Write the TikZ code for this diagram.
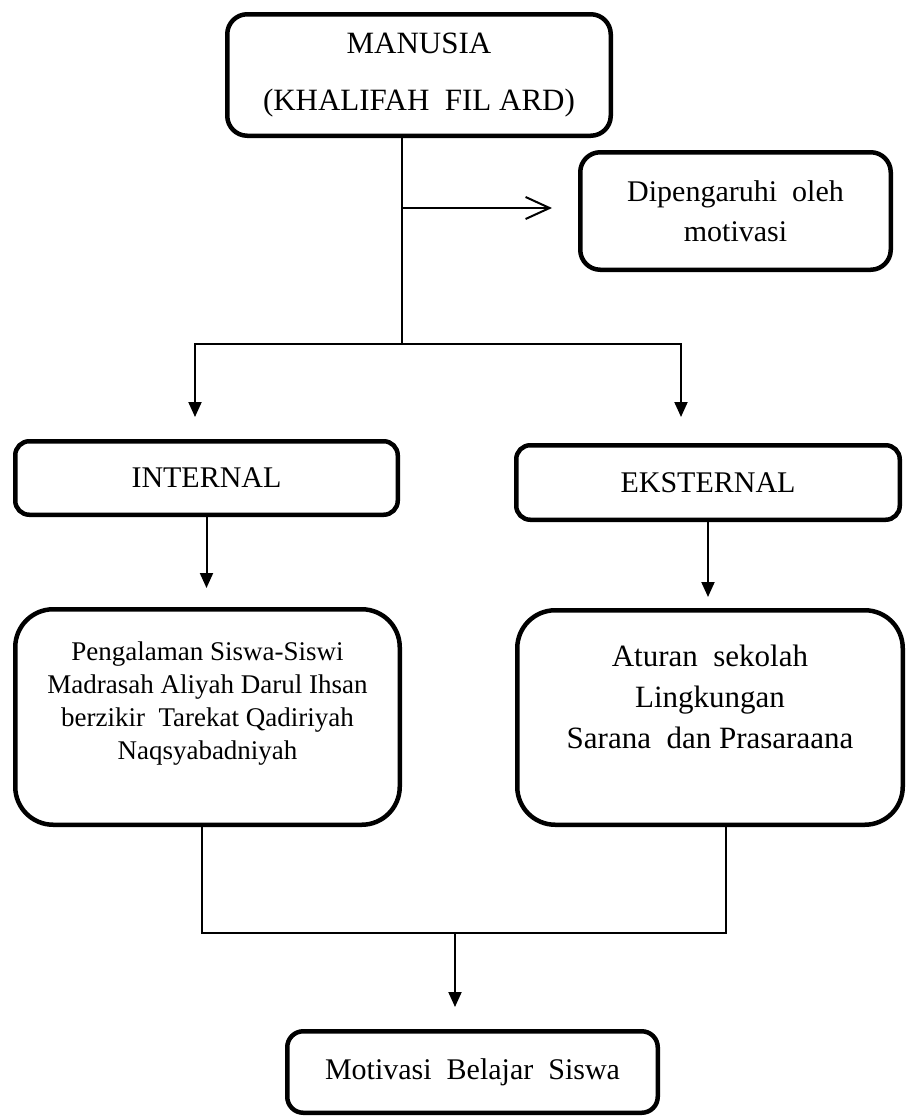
\documentclass[tikz,border=0pt]{standalone}
\usepackage{fontspec}
\setmainfont{Liberation Serif}
\usetikzlibrary{arrows.meta, positioning, calc}

\begin{document}
\begin{tikzpicture}[
    x=1pt, y=-1pt,
    box/.style={draw, rectangle, line width=4.5pt, rounded corners=20pt, align=center, inner sep=0pt, font=\fontsize{30}{41}\selectfont},
    line/.style={line width=2pt},
    arrow/.style={-{Triangle[length=15pt, width=13pt]}, line width=2pt},
    openarrow/.style={-{Straight Barb[length=24pt, width=22pt, line width=2pt]}, line width=2pt}
]

\useasboundingbox (0,0) rectangle (907,1117);

% Top boxes
\node[box, minimum width=383.5pt, minimum height=121.5pt, font=\fontsize{31}{57}\selectfont] (manusia) at (419,75) {MANUSIA\\(KHALIFAH\ \ FIL ARD)};
\node[box, minimum width=310.5pt, minimum height=117.5pt, font=\fontsize{30}{40}\selectfont] (motiv) at (735.5,211) {Dipengaruhi\ \ oleh\\motivasi};

% Faktor internal / eksternal
\node[box, minimum width=382.5pt, minimum height=73.5pt, rounded corners=14pt] (internal) at (206.5,478) {INTERNAL};
\node[box, minimum width=383.5pt, minimum height=74.5pt, rounded corners=14pt] (eksternal) at (708,482.5) {EKSTERNAL};

\node[box, minimum width=384.5pt, minimum height=215.5pt, rounded corners=38pt, font=\fontsize{27}{33}\selectfont] (pengalaman) at (207.5,717) {Pengalaman Siswa-Siswi\\Madrasah Aliyah Darul Ihsan\\berzikir\ \ Tarekat Qadiriyah\\Naqsyabadniyah\\ ~};
\node[box, minimum width=385.5pt, minimum height=214.5pt, rounded corners=38pt, font=\fontsize{31}{41}\selectfont] (aturan) at (710,717.5) {Aturan\ \ sekolah\\Lingkungan\\Sarana\ \ dan Prasaraana\\ ~};

% Hasil
\node[box, minimum width=370.5pt, minimum height=81.5pt, rounded corners=16pt] (hasil) at (472.5,1072) {Motivasi\ \ Belajar\ \ Siswa};

% Connectors
\coordinate (split) at (402,344);
\coordinate (inTip) at (195,417);
\coordinate (exTip) at (681,417);
\coordinate (merge) at (455,933);

\draw[line] (manusia.south -| split) -- (split);
\draw[openarrow] ($(split |- motiv.west)+(0,-3)$) -- ($(motiv.west)+(-26,-3)$);
\draw[arrow] (split) -| (inTip);
\draw[arrow] (split) -| (exTip);

\draw[arrow] (internal.south) -- ($(internal.south |- pengalaman.north)+(0,-19)$);
\draw[arrow] (eksternal.south) -- ($(eksternal.south |- aturan.north)+(0,-11)$);

\draw[line] ($(pengalaman.south)+(-5.5,0)$) |- (merge) -| ($(aturan.south)+(16,0)$);
\draw[arrow] (merge) -- ($(merge |- hasil.north)+(0,-22)$);

\end{tikzpicture}
\end{document}
